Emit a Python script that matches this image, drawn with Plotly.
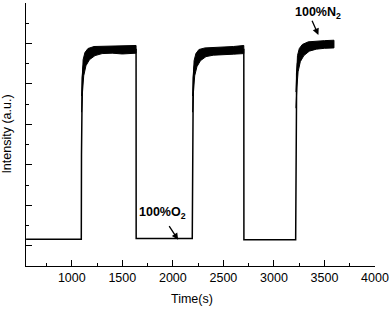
import plotly.graph_objects as go

# ---- data ----
signal_time = [548, 1094, 1096, 1099, 1104, 1112, 1130, 1160, 1220, 1320, 1440, 1560, 1636,
               1637, 2192, 2194, 2197, 2202, 2210, 2228, 2258, 2318, 2420, 2540, 2640, 2702,
               2703, 3215, 3217, 3220, 3225, 3233, 3251, 3281, 3340, 3440, 3540, 3594]
signal_val = [1.32, 1.32, 5.5, 8.4, 9.3, 9.8, 10.2, 10.45, 10.62, 10.68, 10.68, 10.66, 10.7,
              1.36, 1.36, 5.5, 8.4, 9.3, 9.8, 10.15, 10.4, 10.55, 10.6, 10.62, 10.65, 10.7,
              1.3, 1.3, 5.5, 8.6, 9.5, 10.0, 10.4, 10.65, 10.85, 10.92, 10.95, 10.97]

band1_up_t = [1097, 1103, 1112, 1130, 1160, 1220, 1300, 1400, 1500, 1636]
band1_up_v = [8.4, 9.7, 10.2, 10.55, 10.75, 10.85, 10.86, 10.84, 10.87, 10.9]
band1_lo_t = [1097, 1106, 1118, 1140, 1175, 1230, 1300, 1400, 1500, 1636]
band1_lo_v = [7.6, 8.6, 9.4, 9.9, 10.2, 10.4, 10.5, 10.52, 10.48, 10.52]

band2_up_t = [2195, 2201, 2210, 2228, 2258, 2318, 2400, 2500, 2600, 2702]
band2_up_v = [8.4, 9.7, 10.15, 10.5, 10.7, 10.78, 10.8, 10.8, 10.85, 10.9]
band2_lo_t = [2195, 2204, 2216, 2238, 2273, 2328, 2400, 2500, 2600, 2702]
band2_lo_v = [7.6, 8.6, 9.4, 9.85, 10.15, 10.35, 10.42, 10.45, 10.47, 10.5]

band3_up_t = [3218, 3224, 3233, 3251, 3281, 3340, 3420, 3500, 3594]
band3_up_v = [8.6, 9.9, 10.4, 10.75, 10.95, 11.08, 11.12, 11.14, 11.16]
band3_lo_t = [3218, 3227, 3239, 3261, 3296, 3350, 3420, 3500, 3594]
band3_lo_v = [7.8, 8.8, 9.6, 10.1, 10.4, 10.62, 10.72, 10.76, 10.78]

x_range = [547, 4000]
y_range = [0, 13]
x_tick_vals = [1000, 1500, 2000, 2500, 3000, 3500, 4000]
x_tick_text = ["1000", "1500", "2000", "2500", "3000", "3500", "4000"]

fig = go.Figure()

for ut, uv, lt, lv in [(band1_up_t, band1_up_v, band1_lo_t, band1_lo_v),
                       (band2_up_t, band2_up_v, band2_lo_t, band2_lo_v),
                       (band3_up_t, band3_up_v, band3_lo_t, band3_lo_v)]:
    fig.add_trace(go.Scatter(x=ut + lt[::-1], y=uv + lv[::-1], mode="lines",
                             fill="toself", fillcolor="black",
                             line=dict(color="black", width=1), hoverinfo="skip",
                             showlegend=False))

fig.add_trace(go.Scatter(x=signal_time, y=signal_val, mode="lines",
                         line=dict(color="black", width=1.5), showlegend=False))

font = "Liberation Sans, Arial, sans-serif"

fig.update_layout(
    width=392, height=310,
    margin=dict(l=26, r=15, t=3, b=44),
    paper_bgcolor="white", plot_bgcolor="white",
    font=dict(family=font, size=12, color="black"),
    xaxis=dict(range=x_range, showgrid=False, zeroline=False,
               showline=True, linecolor="black", linewidth=1.3,
               ticks="inside", ticklen=6, tickwidth=1.2, tickcolor="black",
               tickvals=x_tick_vals, ticktext=x_tick_text,
               tickfont=dict(size=12.5),
               minor=dict(ticks="inside", ticklen=3, tickwidth=1.2, tickcolor="black", dtick=250, tick0=500)),
    yaxis=dict(range=y_range, showgrid=False, zeroline=False,
               showline=True, linecolor="black", linewidth=1.3,
               ticks="inside", ticklen=6, tickwidth=1.2, tickcolor="black",
               tick0=1, dtick=2, showticklabels=False,
               minor=dict(ticks="inside", ticklen=3, tickwidth=1.2, tickcolor="black", dtick=1, tick0=0)),
    annotations=[
        dict(text="Time(s)", xref="paper", yref="paper", x=0.476, y=-0.125,
             xanchor="center", yanchor="middle", showarrow=False, font=dict(size=12.5)),
        dict(text="Intensity (a.u.)", xref="paper", yref="paper", x=-0.057, y=0.5,
             xanchor="center", yanchor="middle", textangle=-90, showarrow=False, font=dict(size=12.5)),
        dict(text="<b>100%N<sub>2</sub></b>", x=3440, y=12.5, xref="x", yref="y",
             showarrow=False, font=dict(size=12.5)),
        dict(text="<b>100%O<sub>2</sub></b>", x=1895, y=2.62, xref="x", yref="y",
             showarrow=False, font=dict(size=12.5)),
        dict(text="", x=3440, y=11.42, ax=3371, ay=12.2, xref="x", yref="y",
             axref="x", ayref="y", showarrow=True, arrowhead=2, arrowsize=1,
             arrowwidth=1.3, arrowcolor="black"),
        dict(text="", x=2052, y=1.3, ax=1954, ay=2.05, xref="x", yref="y",
             axref="x", ayref="y", showarrow=True, arrowhead=2, arrowsize=1,
             arrowwidth=1.3, arrowcolor="black"),
    ],
)

fig.write_html("out.html", config={"displayModeBar": False},
               post_script="document.body.style.margin='0';document.body.style.overflow='hidden';")
